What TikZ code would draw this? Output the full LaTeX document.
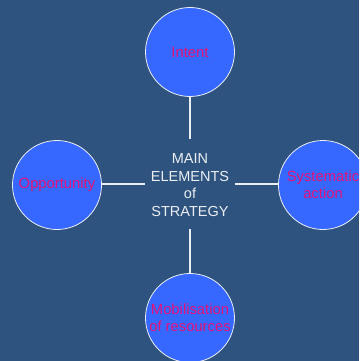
\documentclass[tikz,border=0pt]{standalone}
\usepackage{fontspec}
\setmainfont{Liberation Sans}
\definecolor{bgblue}{RGB}{45,83,126}
\definecolor{ballblue}{RGB}{54,104,255}
\definecolor{labelred}{RGB}{226,18,120}
\definecolor{linewhite}{RGB}{235,238,242}
\begin{document}
\begin{tikzpicture}[x=1pt,y=-1pt,
  element/.style={circle,draw=linewhite,line width=0.8pt,fill=ballblue,
    minimum size=89pt,inner sep=0pt,align=center,text=labelred,
    font=\fontsize{14.8}{17}\selectfont},
  hub/.style={align=center,text=linewhite,inner sep=0pt,
    font=\fontsize{14.5}{17.5}\selectfont},
  link/.style={draw=linewhite,line width=1.4pt}]
  \useasboundingbox (0,0) rectangle (359,361);
  \clip (0,0) rectangle (359,361);
  \fill[bgblue] (0,0) rectangle (359,361);
  \node[hub] (core) at (190,185) {MAIN\\ELEMENTS\\of\\STRATEGY};
  \node[element] (intent) at (190,52) {Intent};
  \node[element] (opp) at (57,185) {Opportunity};
  \node[element] (sys) at (323,185) {Systematic\\action};
  \node[element] (mob) at (190,318) {Mobilisation\\of resources};
  \coordinate (cN) at (190,139);
  \coordinate (cS) at (190,229);
  \coordinate (cW) at (145,184);
  \coordinate (cE) at (235,184);
  \draw[link] (intent) -- (cN);
  \draw[link] (mob) -- (cS);
  \draw[link] (opp.east |- cW) -- (cW);
  \draw[link] (cE) -- (sys.west |- cE);
\end{tikzpicture}
\end{document}
